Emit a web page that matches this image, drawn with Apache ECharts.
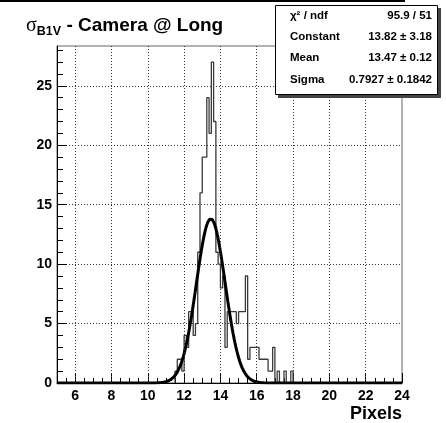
<!DOCTYPE html>
<html>
<head>
<meta charset="utf-8">
<script src="https://cdn.jsdelivr.net/npm/echarts@6/dist/echarts.min.js"></script>
<style>
html,body{margin:0;padding:0;background:#fff;}
#chart{width:446px;height:423px;}
</style>
</head>
<body>
<div id="chart"></div>
<script>
// ---- data ----
const BIN_START = 11.5;      // low edge of first plotted bin
const BIN_WIDTH = 0.125;     // bin width (Pixels)
const counts = [1,2,2,1,4,3,6,6,4,5,11,16,19,19,24,21,27,22,11,10,8,9,3,6,6,6,6,5,6,6,6,9,2,3,3,3,3,2,2,2,2,1,1,3,0,1,0,0,1,0,0,1];
const xTickLabels = [6,8,10,12,14,16,18,20,22,24];
const yTickLabels = [0,5,10,15,20,25];
const yMinorTicks = [0,1,2,3,4,5,6,7,8,9,10,11,12,13,14,15,16,17,18,19,20,21,22,23,24,25,26,27,28];
const fitConstant = 13.82, fitMean = 13.47, fitSigma = 0.7927;
const statsRows = [
  ['χ² / ndf', '95.9 / 51'],
  ['Constant', '13.82 ± 3.18'],
  ['Mean', '13.47 ± 0.12'],
  ['Sigma', '0.7927 ± 0.1842']
];

// histogram outline (step)
const histData = [[BIN_START, 0]];
counts.forEach((c, i) => histData.push([BIN_START + i * BIN_WIDTH, c]));
histData.push([BIN_START + counts.length * BIN_WIDTH, counts[counts.length - 1]]);
histData.push([BIN_START + counts.length * BIN_WIDTH, 0]);

// fitted gaussian from the displayed fit parameters
const fitData = [];
for (let x = 5; x <= 24.0001; x += 0.05) {
  fitData.push([x, fitConstant * Math.exp(-0.5 * Math.pow((x - fitMean) / fitSigma, 2))]);
}

const FONT = 'Liberation Sans, Arial, sans-serif';
const chart = echarts.init(document.getElementById('chart'), null, {renderer: 'canvas'});

const statsGraphics = [
  {type: 'rect', shape: {x: 278, y: 8, width: 163, height: 90}, style: {fill: '#444'}, z: 100},
  {type: 'rect', shape: {x: 275.5, y: 5.5, width: 162, height: 89}, style: {fill: '#fff', stroke: '#000', lineWidth: 1}, z: 101}
];
statsRows.forEach((r, i) => {
  const y = 15.5 + i * 21.3;
  statsGraphics.push({type: 'text', x: 290, y: y, z: 102,
    style: {text: r[0], font: 'bold 11.5px ' + FONT, fill: '#000', verticalAlign: 'middle', align: 'left'}});
  statsGraphics.push({type: 'text', x: 432, y: y, z: 102,
    style: {text: r[1], font: 'bold 11.5px ' + FONT, fill: '#000', verticalAlign: 'middle', align: 'right'}});
});
statsGraphics.push({type: 'line', shape: {x1: 0, y1: 1, x2: 405, y2: 1}, style: {stroke: '#000', lineWidth: 2}, z: 99});

chart.setOption({
  animation: false,
  backgroundColor: '#fff',
  title: {
    left: 21, top: 9,
    text: '{s|σ}{sub|B1V}{t| - Camera @ Long}',
    textStyle: {
      rich: {
        s: {fontFamily: 'Liberation Serif, serif', fontSize: 20, fontWeight: 'normal', color: '#000', verticalAlign: 'middle', lineHeight: 24},
        sub: {fontFamily: FONT, fontSize: 12.5, fontWeight: 'bold', color: '#000', verticalAlign: 'bottom', lineHeight: 24, padding: [8, 0, 0, 0]},
        t: {fontFamily: FONT, fontSize: 19, fontWeight: 'bold', color: '#000', verticalAlign: 'middle', lineHeight: 24}
      }
    }
  },
  grid: {left: 57, right: 44, top: 46, bottom: 40, show: true, borderColor: '#666', borderWidth: 1, backgroundColor: 'transparent'},
  xAxis: [
    {type: 'value', min: 5, max: 24, interval: 0.5, position: 'bottom',
      axisLine: {show: true, onZero: false, lineStyle: {color: '#000', width: 1}},
      axisTick: {show: true, inside: true, length: 5, lineStyle: {color: '#000'}},
      axisLabel: {show: false}, splitLine: {show: false}},
    {type: 'value', min: 5, max: 24, interval: 1, position: 'bottom',
      name: 'Pixels', nameLocation: 'end', nameGap: 0,
      nameTextStyle: {fontFamily: FONT, fontWeight: 'bold', fontSize: 18, color: '#000', align: 'right', verticalAlign: 'top', padding: [22, 0, 0, 0]},
      axisLine: {show: false, onZero: false},
      axisTick: {show: true, inside: true, length: 10, customValues: xTickLabels, lineStyle: {color: '#000'}},
      axisLabel: {show: true, customValues: xTickLabels, margin: 6, fontFamily: FONT, fontWeight: 'bold', fontSize: 14, color: '#000'},
      splitLine: {show: false}}
  ],
  yAxis: [
    {type: 'value', min: 0, max: 28.35, position: 'left',
      axisLine: {show: true, onZero: false, lineStyle: {color: '#000', width: 1}},
      axisTick: {show: true, inside: true, length: 6, customValues: yMinorTicks, lineStyle: {color: '#000'}},
      axisLabel: {show: false}, splitLine: {show: false}},
    {type: 'value', min: 0, max: 28.35, interval: 5, position: 'left',
      axisLine: {show: false, onZero: false},
      axisTick: {show: true, inside: true, length: 10, customValues: yTickLabels, lineStyle: {color: '#000'}},
      axisLabel: {show: true, customValues: yTickLabels, margin: 5, fontFamily: FONT, fontWeight: 'bold', fontSize: 14, color: '#000'},
      splitLine: {show: true, lineStyle: {color: '#333', type: [1, 2], width: 1}}}
  ],
  series: [
    {name: 'hist', type: 'line', xAxisIndex: 0, yAxisIndex: 0, step: 'end', data: histData,
      showSymbol: false, symbol: 'none', lineStyle: {color: '#3a3a3a', width: 1.3}, z: 3,
      markLine: {silent: true, symbol: 'none', label: {show: false},
        lineStyle: {color: '#333', type: [1, 2], width: 1},
        data: xTickLabels.filter(v => v < 24).map(v => ({xAxis: v}))}},
    {name: 'fit', type: 'line', xAxisIndex: 0, yAxisIndex: 0, data: fitData,
      showSymbol: false, symbol: 'none', lineStyle: {color: '#000', width: 3}, z: 4}
  ],
  graphic: statsGraphics
});
</script>
</body>
</html>
